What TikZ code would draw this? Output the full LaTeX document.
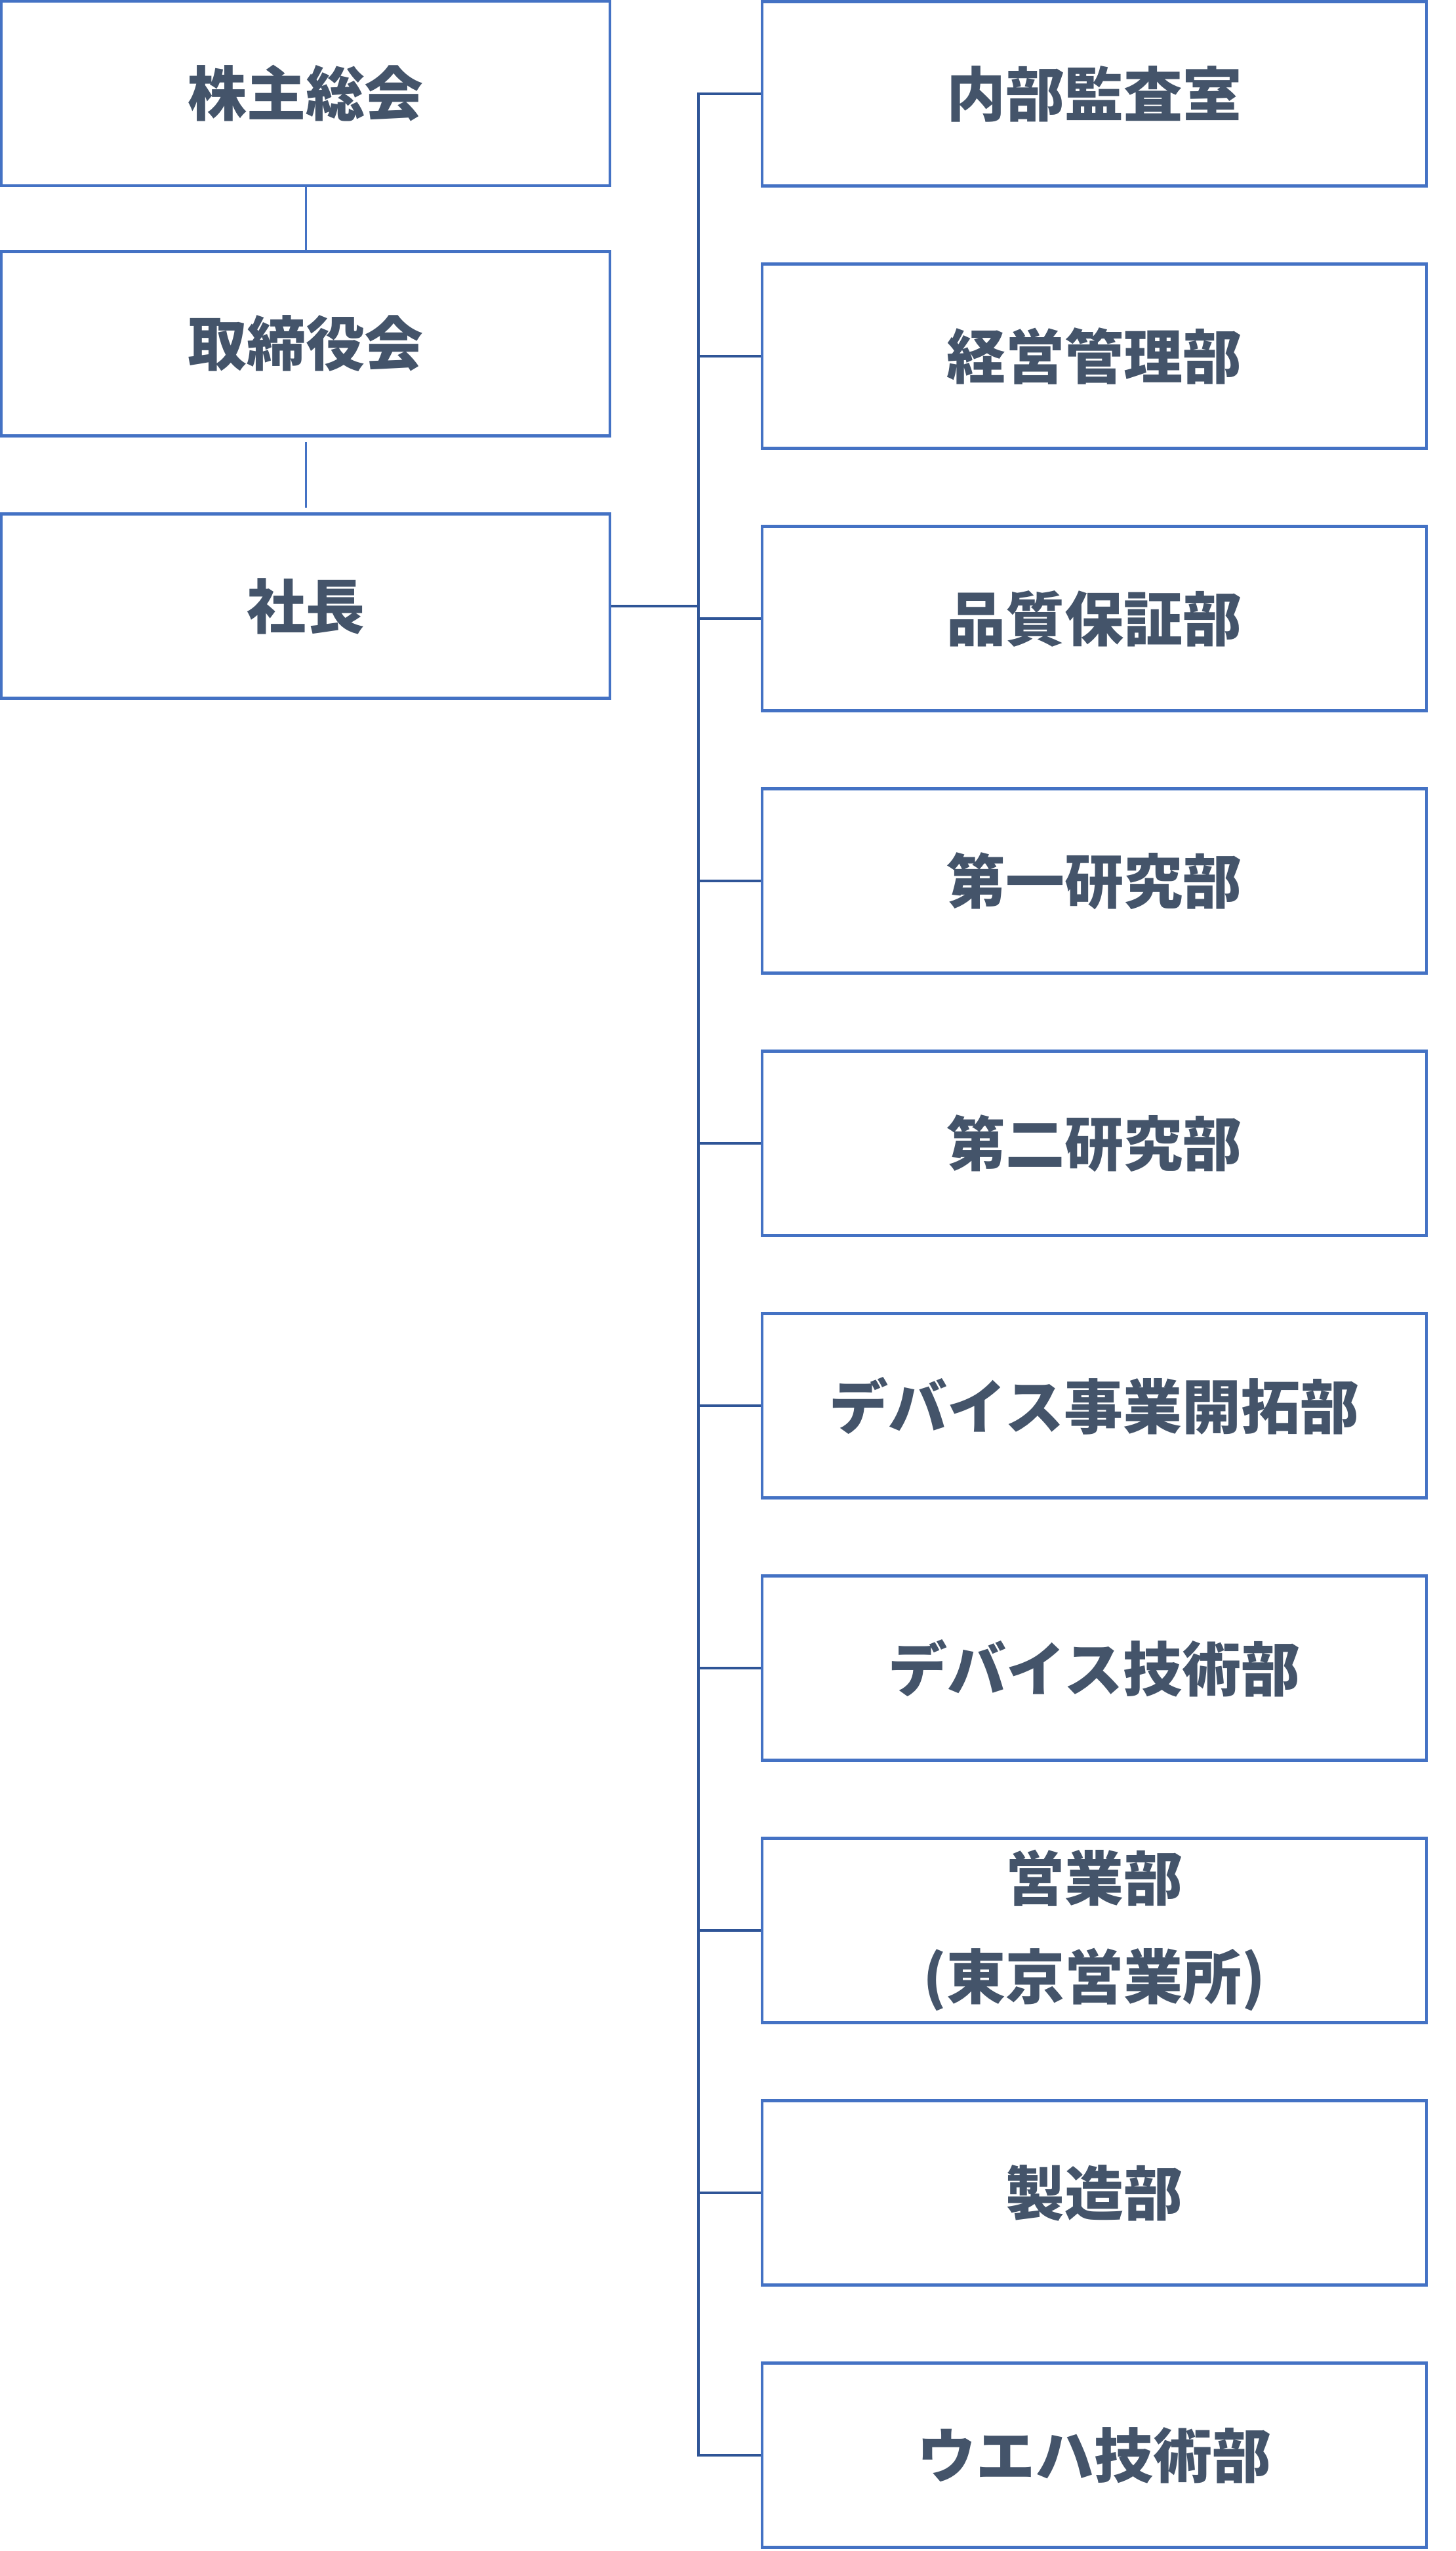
\documentclass[tikz,border=0pt]{standalone}
\usepackage{fontspec}
\setmainfont{Noto Sans CJK JP}
\definecolor{boxblue}{HTML}{4472C4}
\definecolor{lineblue}{HTML}{2F5597}
\definecolor{textgray}{HTML}{44546A}

\begin{document}
\begin{tikzpicture}[font=\fontsize{25.6}{42.7}\selectfont\bfseries,
  unit/.style={draw=boxblue, line width=1.3pt, fill=white, text=textgray,
    minimum width=9.28cm, minimum height=2.81cm, inner sep=0pt, align=center},
  dept/.style={unit, minimum width=10.13cm},
  link/.style={draw=lineblue, line width=1.1pt},
  uplink/.style={draw=boxblue, line width=0.85pt}]
  \useasboundingbox (0,0) rectangle (22.19,-38.89);
  \def\trunkx{10.65}
  % ---------------- left column ----------------
  \node[unit] (meeting) at (4.66,-1.425) {株主総会};
  \node[unit] (board) at (4.66,-5.24) {取締役会};
  \node[unit] (pres) at (4.66,-9.24) {社長};
  \draw[uplink] (meeting.south) -- (board.north);
  \draw[uplink] ([yshift=-2pt]board.south) -- ([yshift=2pt]pres.north);
  % ---------------- departments ----------------
  \foreach \t [count=\i from 0] in {内部監査室,経営管理部,品質保証部,第一研究部,第二研究部,
      デバイス事業開拓部,デバイス技術部,{営業部\\(東京営業所)},製造部,ウエハ技術部}{
    \node[dept] (dept\i) at (16.685,-1.43-4*\i) {\t};
  }
  \coordinate (trunk) at (\trunkx,0);
  \draw[link] (pres.east) -- (pres.east -| trunk);
  \draw[link] (dept0.west) -- (dept0.west -| trunk) -- (dept9.west -| trunk) -- (dept9.west);
  \foreach \i in {1,...,8}{
    \draw[link] (dept\i.west -| trunk) -- (dept\i.west);
  }
\end{tikzpicture}
\end{document}
